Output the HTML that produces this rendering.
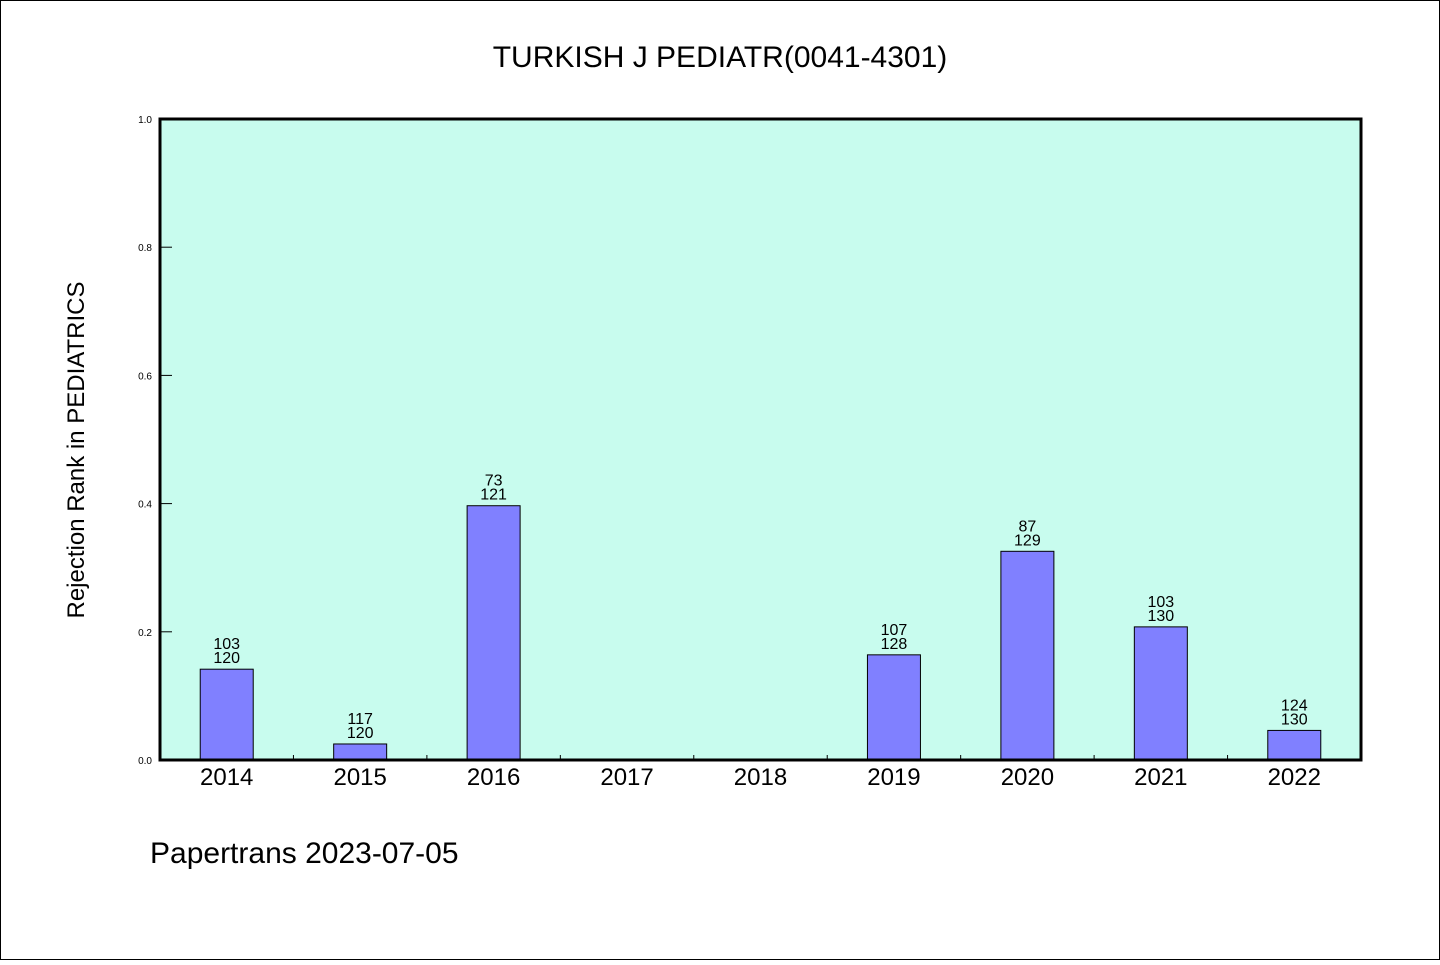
<!DOCTYPE html>
<html><head><meta charset="utf-8"><style>
body{margin:0;background:#fff}
svg text{font-family:"WenQuanYi Zen Hei","Liberation Sans",sans-serif;fill:#000}
</style></head><body>
<svg width="1440" height="960">
<rect x="0.5" y="0.5" width="1439" height="959" fill="#fff" stroke="#000"/>
<text x="720" y="67" font-size="30" text-anchor="middle">TURKISH J PEDIATR(0041-4301)</text>
<rect x="160" y="119" width="1201" height="641" fill="#c8fcee"/>
<g id="bars"></g>
<rect x="160" y="119" width="1201" height="641" fill="none" stroke="#000" stroke-width="3"/>
<text transform="translate(84,450) rotate(-90)" font-size="24" text-anchor="middle">Rejection Rank in PEDIATRICS</text>
<text x="150" y="863" font-size="30">Papertrans 2023-07-05</text>
</svg>
<script>
const years=["2014","2015","2016","2017","2018","2019","2020","2021","2022"];
const ranks=[103,117,73,null,null,107,87,103,124];
const totals=[120,120,121,null,null,128,129,130,130];
const yTicks=[0,0.2,0.4,0.6,0.8,1.0];
const svg=document.querySelector('svg'),g=document.getElementById('bars');
const NS='http://www.w3.org/2000/svg';
const L=160,R=1361,T=119,B=760;
const bw=(R-L)/years.length;
const y=v=>B-v*(B-T);
const x=i=>L+bw*(i+0.5);
function mk(t,a,p){const e=document.createElementNS(NS,t);for(const k in a)e.setAttribute(k,a[k]);(p||svg).appendChild(e);return e;}
yTicks.forEach(v=>{
 const l=mk('line',{x1:L,x2:L+12,y1:y(v),y2:y(v),stroke:'#000'});
 
 
 const t=mk('text',{x:152,y:y(v)+4,'font-size':10,'text-anchor':'end'});
 t.textContent=v.toFixed(1);
 
 
});
years.forEach((yr,i)=>{
 if(i>0){const l=mk('line',{x1:L+bw*i,x2:L+bw*i,y1:B,y2:B-5,stroke:'#000'});
  
  }
 const t=mk('text',{x:x(i),y:B+25,'font-size':24,'text-anchor':'middle'});
 t.textContent=yr;
 
 
 if(ranks[i]==null)return;
 const v=1-ranks[i]/totals[i];
 const r=mk('rect',{x:x(i)-26.5,y:y(v),width:53,height:B-y(v),fill:'#8080ff',stroke:'#000'},g);
 
 
 const a=mk('text',{x:x(i),y:y(v)-20,'font-size':16,'text-anchor':'middle'});
 a.textContent=ranks[i];
 
 
 const b=mk('text',{x:x(i),y:y(v)-6,'font-size':16,'text-anchor':'middle'});
 b.textContent=totals[i];
 
 
});
</script>
</body></html>
